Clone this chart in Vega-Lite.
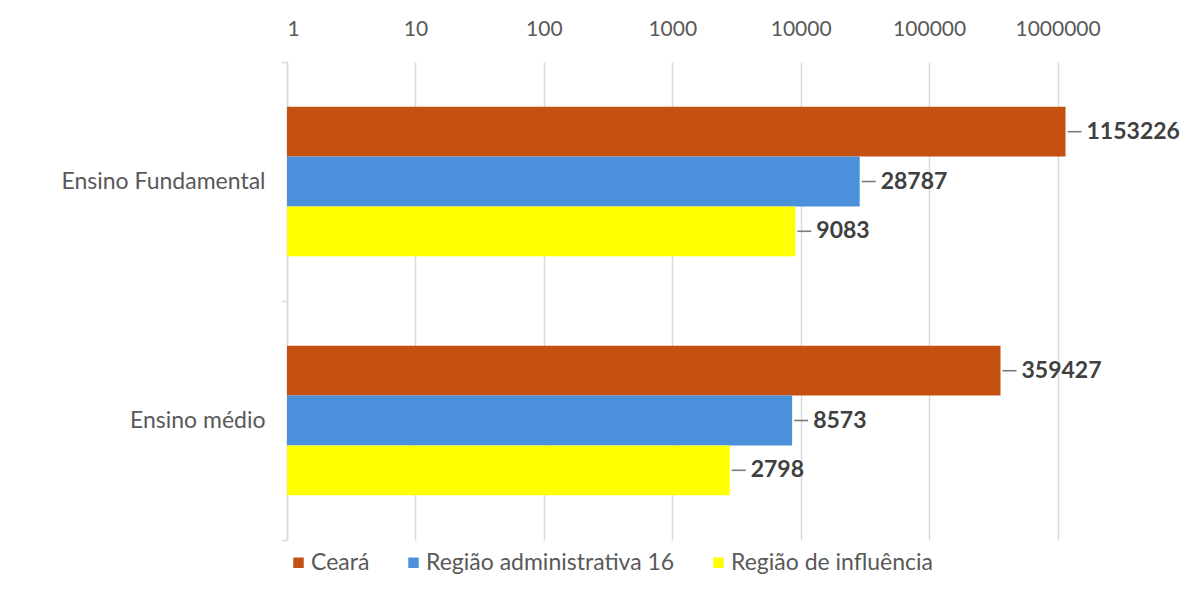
{
  "$schema": "https://vega.github.io/schema/vega-lite/v6.json",
  "autosize": {"type": "none"},
  "padding": {"left": 287, "top": 62, "right": 16, "bottom": 54},
  "width": 899,
  "height": 478,
  "background": "white",
  "config": {
    "view": {"stroke": null},
    "font": "Lato",
    "axis": {"labelFont": "Lato", "labelColor": "#595959"},
    "legend": {"labelFont": "Lato", "labelColor": "#595959", "labelFontSize": 23}
  },
  "data": {
    "values": [
      {"nivel": "Ensino Fundamental", "serie": "Ceará", "valor": 1153226},
      {"nivel": "Ensino Fundamental", "serie": "Região administrativa 16", "valor": 28787},
      {"nivel": "Ensino Fundamental", "serie": "Região de influência", "valor": 9083},
      {"nivel": "Ensino médio", "serie": "Ceará", "valor": 359427},
      {"nivel": "Ensino médio", "serie": "Região administrativa 16", "valor": 8573},
      {"nivel": "Ensino médio", "serie": "Região de influência", "valor": 2798}
    ]
  },
  "encoding": {
    "y": {
      "field": "nivel", "type": "nominal", "sort": ["Ensino Fundamental", "Ensino médio"],
      "scale": {"paddingInner": 0, "paddingOuter": 0},
      "axis": {"title": null, "orient": "left", "tickBand": "extent", "tickSize": 6, "tickColor": "#d9d9d9", "tickWidth": 1.5, "domainColor": "#d9d9d9", "domainWidth": 1.5, "labelPadding": 16, "labelFontSize": 23, "labelLimit": 0, "grid": false}
    },
    "yOffset": {
      "field": "serie", "type": "nominal",
      "sort": ["Ceará", "Região administrativa 16", "Região de influência"],
      "scale": {"paddingInner": 0, "paddingOuter": 0.9}
    },
    "x": {
      "field": "valor", "type": "quantitative", "stack": null,
      "scale": {"type": "log", "domain": [1, 10000000], "nice": false},
      "axis": {"title": null, "orient": "top", "values": [1, 10, 100, 1000, 10000, 100000, 1000000], "format": "d", "domain": false, "ticks": false, "labelPadding": 23, "labelFontSize": 21, "grid": true, "gridColor": "#d9d9d9", "gridWidth": 1.5}
    }
  },
  "layer": [
    {
      "mark": {"type": "bar"},
      "encoding": {
        "x2": {"datum": 1},
        "color": {
          "field": "serie", "type": "nominal",
          "sort": ["Ceará", "Região administrativa 16", "Região de influência"],
          "scale": {"domain": ["Ceará", "Região administrativa 16", "Região de influência"], "range": ["#C4510F", "#4A90DB", "#FFFF00"]},
          "legend": {"title": null, "orient": "none", "legendX": 0, "legendY": 489, "direction": "horizontal", "columns": 3, "symbolType": "square", "symbolSize": 110, "symbolStrokeWidth": 0, "labelOffset": 1, "columnPadding": 32, "labelLimit": 0}
        }
      }
    },
    {
      "mark": {"type": "point", "shape": "M-1,0L1,0", "size": 196, "filled": false, "stroke": "#7a7a7a", "strokeWidth": 1.6, "opacity": 1, "xOffset": 9}
    },
    {
      "mark": {"type": "text", "align": "left", "baseline": "middle", "dx": 21, "fontWeight": "bold", "fontSize": 23, "color": "#404040", "font": "Lato"},
      "encoding": {"text": {"field": "valor", "type": "quantitative", "format": "d"}}
    }
  ]
}
